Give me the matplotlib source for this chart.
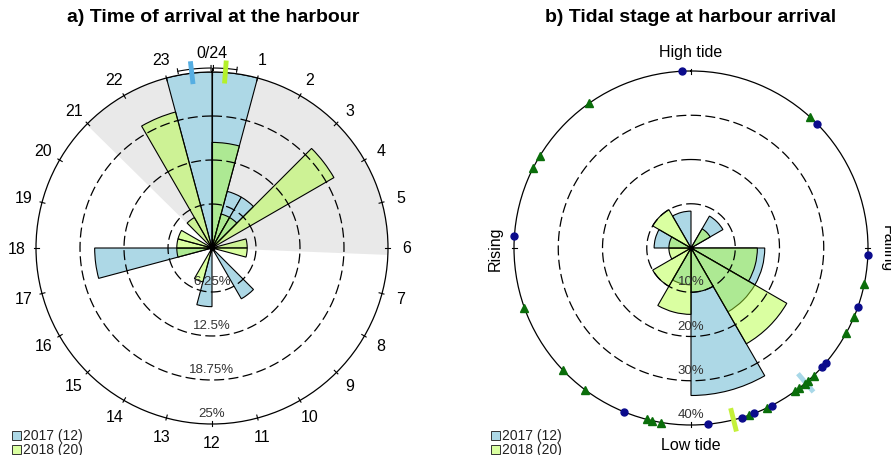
import numpy as np
import matplotlib.pyplot as plt
from matplotlib.patches import Rectangle

plt.rcParams['font.family'] = ['Liberation Sans', 'DejaVu Sans']

# arrival hour counts, one bin per hour (0..23)
hour_labels = ['0/24'] + [str(h) for h in range(1, 24)]
arrivals_2017 = [3, 1, 1, 0, 0, 0, 0, 0, 0, 1, 0, 0, 1, 0, 0, 0, 0, 2, 0, 0, 0, 0, 0, 3]
arrivals_2018 = [3, 1, 1, 4, 0, 1, 1, 0, 0, 0, 0, 0, 0, 1, 0, 0, 0, 1, 1, 1, 0, 1, 4, 0]
night_hours = (20.97, 30.15)          # sunset -> sunrise (next day)
mean_hour = {'2017': 23.56, '2018': 0.29}
ci_hour = {'2017': (23.27, 23.98), '2018': (0.03, 0.53)}
hour_rings = [6.25, 12.5, 18.75]
hour_ring_labels = ['6.25%', '12.5%', '18.75%', '25%']

# tidal stage, 30 degree bins starting at high tide, clockwise
tide_bin_start = [0, 30, 60, 90, 120, 150, 180, 210, 240, 270, 300, 330]
tide_2017 = [0, 1, 0, 2, 2, 4, 1, 0, 0, 1, 0, 1]
tide_2018 = [0, 1, 0, 3, 5, 2, 3, 2, 1, 1, 2, 0]
tide_obs_2017 = [357, 45.5, 92.3, 109.6, 130.5, 132.4, 152.9, 159, 163.3, 174.4, 202.2, 274]
tide_obs_2018 = [42.2, 101.7, 113, 118.6, 136.2, 138.5, 140, 142.2, 144, 154.6,
                 160.8, 189.6, 192.7, 194.5, 216.9, 226.5, 250.3, 296.8, 301.4, 324.9]
mean_tide = {'2017': 139.6, '2018': 166.1}
tide_rings = [10, 20, 30]
tide_ring_labels = ['10%', '20%', '30%', '40%']

blue = '#add8e6'
green = (173/255, 1.0, 47/255, 0.45)
W, H = 891, 456

fig = plt.figure(figsize=(W / 100, H / 100), dpi=100)


def polar_ax(cx, cy, r, rmax):
    ax = fig.add_axes([(cx - r) / W, (H - cy - r) / H, 2 * r / W, 2 * r / H],
                      projection='polar')
    ax.set_theta_zero_location('N')
    ax.set_theta_direction(-1)
    ax.set_ylim(0, rmax)
    ax.grid(False)
    ax.set_xticks([])
    ax.set_yticks([])
    ax.spines['polar'].set_linewidth(0.9)
    ax.patch.set_alpha(0)
    return ax


def dashed_rings(ax, rings):
    th = np.linspace(0, 2 * np.pi, 500)
    for r in rings:
        ax.plot(th, np.full_like(th, r), color='black', lw=0.9,
                ls=(0, (8, 3.5)), zorder=4)


def ring_labels(ax, radii, labels, px):
    for r, lab in zip(radii, labels):
        ax.text(np.pi, r - px, lab, ha='center', va='center',
                fontsize=9.5, color='#333333', zorder=6)


# ---- a) time of arrival ----
R1 = 176
ax1 = polar_ax(212, 249, R1, 25)
px1 = 25 / R1
step = 2 * np.pi / 24
ax1.bar(night_hours[0] * step, 25, width=(night_hours[1] - night_hours[0]) * step,
        align='edge', color='#e9e9e9', lw=0, zorder=0)

hours = np.arange(24)
pct17 = np.array(arrivals_2017) / sum(arrivals_2017) * 100
pct18 = np.array(arrivals_2018) / sum(arrivals_2018) * 100
ax1.bar(hours * step, pct17, width=step, align='edge', color=blue,
        edgecolor='black', lw=0.8, zorder=2)
ax1.bar(hours * step, pct18, width=step, align='edge', color=green,
        edgecolor='black', lw=0.8, zorder=3)
ax1.plot(0, 0, 'o', color='black', ms=3, zorder=5)
dashed_rings(ax1, hour_rings)
ring_labels(ax1, hour_rings + [25], hour_ring_labels, 11 * px1)

for h, lab in zip(hours, hour_labels):
    ax1.plot([h * step] * 2, [25 - 3 * px1, 25 + 2 * px1], color='black', lw=0.8,
             clip_on=False)
    ax1.text(h * step, 25 + 19 * px1, lab, ha='center', va='center', fontsize=11.5)

# mean arrival with confidence arcs
r_ci = 25 + 4 * px1
for yr, col in [('2017', '#56aee2'), ('2018', '#b4f02a')]:
    a, b = ci_hour[yr]
    if b < a:
        b += 24
    th = np.linspace(a, b, 30) * step
    ax1.plot(th, np.full_like(th, r_ci), color='black', lw=0.8, clip_on=False, zorder=6)
    for e in (a, b):
        ax1.plot([e * step] * 2, [r_ci - 2.5 * px1, r_ci + 2.5 * px1], color='black',
                 lw=0.8, clip_on=False, zorder=6)
    m = mean_hour[yr] * step
    ax1.plot([m, m], [25 - 11 * px1, 25 + 12 * px1], color=col, lw=3.5,
             solid_capstyle='butt', clip_on=False, zorder=7)
ax1.plot([0, 0], [0, r_ci], color='black', lw=0.8, clip_on=False, zorder=5)

fig.text(213 / W, 1 - 18 / H, 'a) Time of arrival at the harbour', ha='center',
         va='center', fontsize=14, fontweight='bold')

# ---- b) tidal stage ----
R2 = 177
ax2 = polar_ax(691, 249, R2, 40)
px2 = 40 / R2
tstep = np.deg2rad(30)
t17 = np.array(tide_2017) / sum(tide_2017) * 100
t18 = np.array(tide_2018) / sum(tide_2018) * 100
ax2.bar(np.deg2rad(tide_bin_start), t17, width=tstep, align='edge', color=blue,
        edgecolor='black', lw=0.8, zorder=2)
ax2.bar(np.deg2rad(tide_bin_start), t18, width=tstep, align='edge', color=green,
        edgecolor='black', lw=0.8, zorder=3)
ax2.plot(0, 0, 'o', color='black', ms=3, zorder=5)
dashed_rings(ax2, tide_rings)
ring_labels(ax2, tide_rings + [40], tide_ring_labels, 11 * px2)

for d in (0, 90, 180, 270):
    ax2.plot([np.deg2rad(d)] * 2, [40 - 3 * px2, 40 + 2 * px2], color='black', lw=0.8,
             clip_on=False)

ax2.plot(np.deg2rad(tide_obs_2018), np.full(len(tide_obs_2018), 40), '^',
         color='#0a6e0a', ms=5.5, clip_on=False, zorder=8)
ax2.plot(np.deg2rad(tide_obs_2017), np.full(len(tide_obs_2017), 40), 'o',
         color='#0b0b8c', ms=5, clip_on=False, zorder=8)
for yr, col in [('2017', '#a8d8e8'), ('2018', '#c4f03a')]:
    m = np.deg2rad(mean_tide[yr])
    ax2.plot([m, m], [40 - 12 * px2, 40 + 12 * px2], color=col, lw=3.5,
             solid_capstyle='butt', clip_on=False, zorder=7)

rt = 40 + 19 * px2
ax2.text(0, rt, 'High tide', ha='center', va='center', fontsize=11.5)
ax2.text(np.pi, rt, 'Low tide', ha='center', va='center', fontsize=11.5)
ax2.text(1.5 * np.pi, rt, 'Rising', ha='center', va='center', fontsize=11.5, rotation=90)
ax2.text(0.5 * np.pi, rt, 'Falling', ha='center', va='center', fontsize=11.5, rotation=270)

fig.text(691 / W, 1 - 18 / H, 'b) Tidal stage at harbour arrival', ha='center',
         va='center', fontsize=14, fontweight='bold')

# legends
for x0 in (12, 491):
    for i, (lab, fc) in enumerate([('2017 (12)', blue), ('2018 (20)', green)]):
        yc = 436 + 14 * i
        fig.patches.append(Rectangle((x0 / W, (H - yc - 4.5) / H), 9 / W, 9 / H,
                                     facecolor=fc, edgecolor='#333333', lw=0.7,
                                     transform=fig.transFigure, figure=fig))
        fig.text((x0 + 11) / W, 1 - yc / H, lab, ha='left', va='center',
                 fontsize=10, color='#222222')

fig.savefig('out.png', dpi=100)
